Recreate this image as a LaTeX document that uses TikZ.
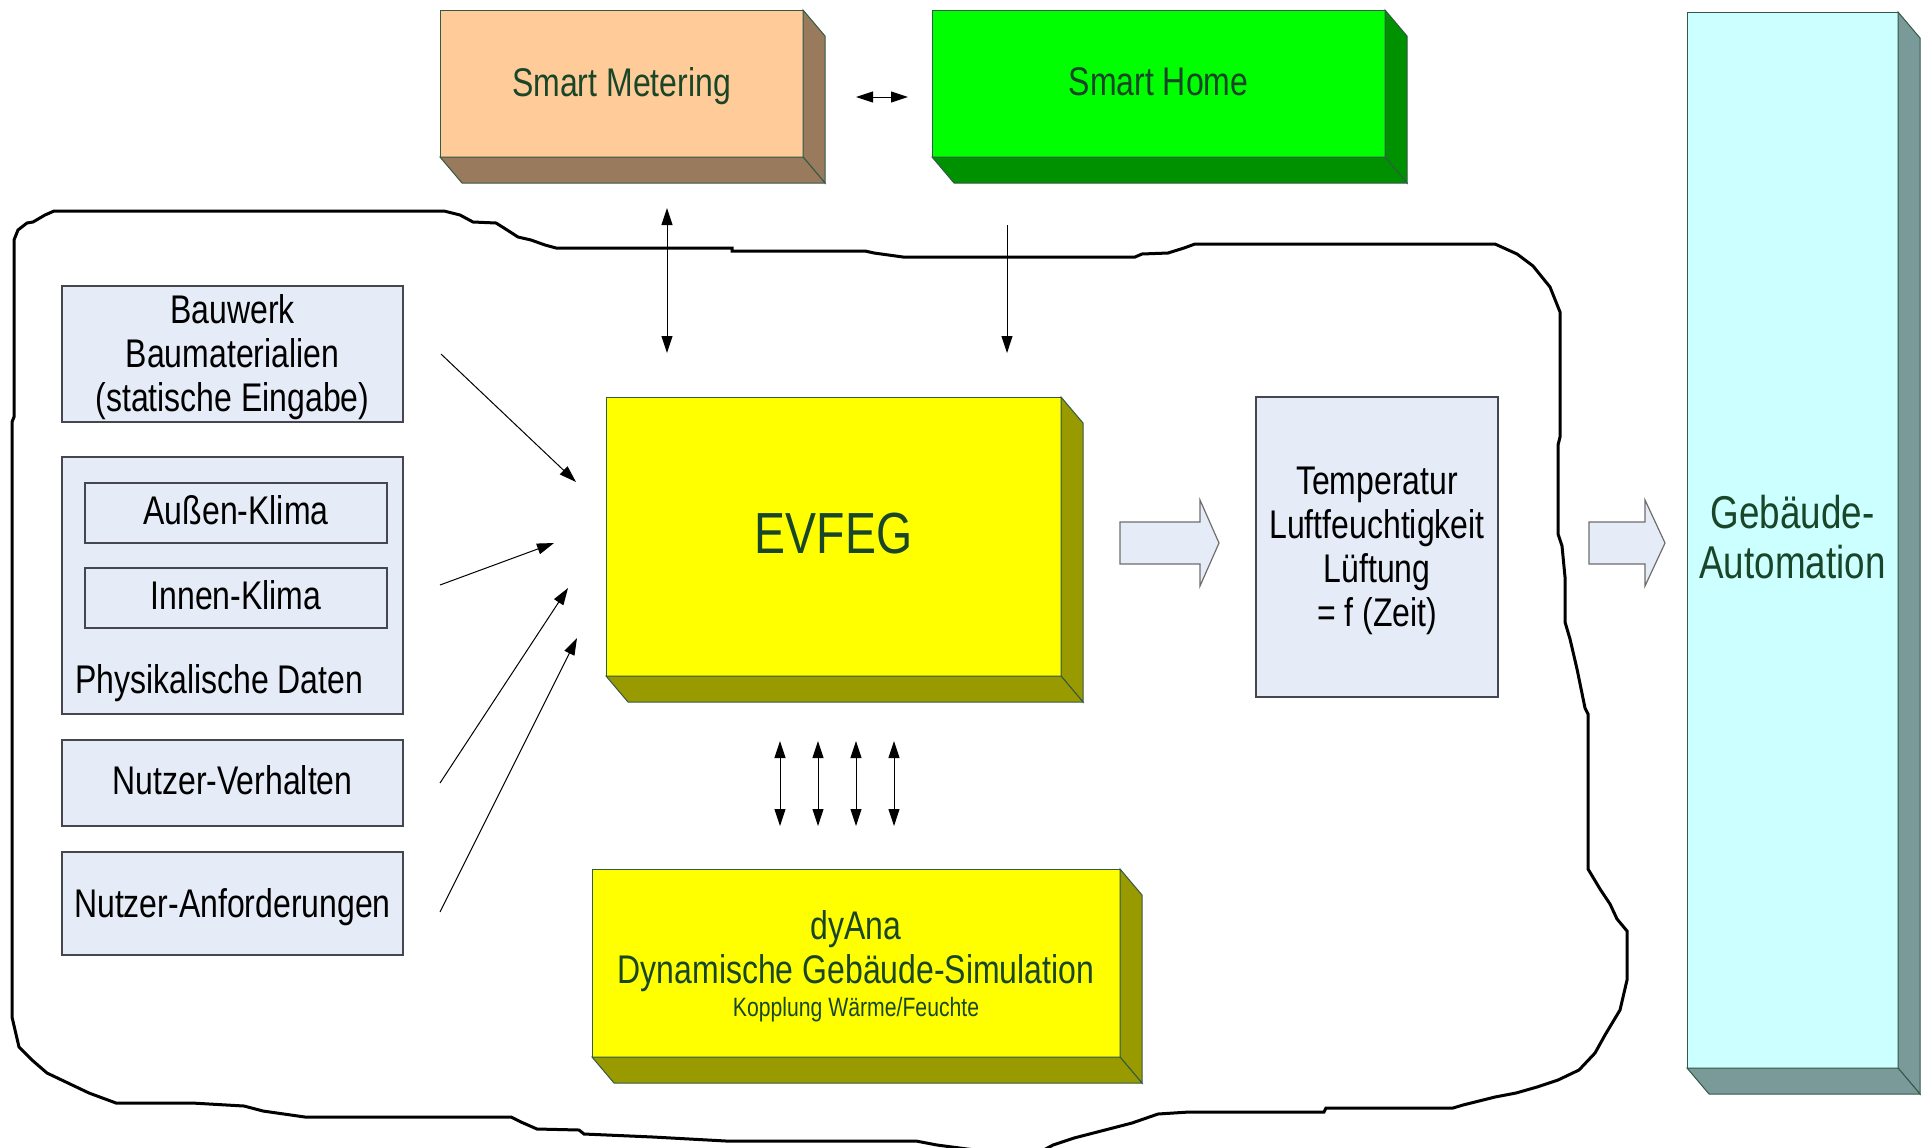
\documentclass[tikz,border=0pt]{standalone}
\usepackage{fontspec}
\setmainfont{Liberation Sans}[FakeStretch=0.8]
\usetikzlibrary{arrows.meta}

\definecolor{textgreen}{RGB}{25,70,40}
\definecolor{edgegreen}{RGB}{50,90,70}
\definecolor{meterfront}{RGB}{255,204,153}
\definecolor{meterside}{RGB}{153,122,92}
\definecolor{homefront}{RGB}{0,255,0}
\definecolor{homeside}{RGB}{0,145,0}
\definecolor{simfront}{RGB}{255,255,0}
\definecolor{simside}{RGB}{153,153,0}
\definecolor{autofront}{RGB}{204,255,255}
\definecolor{autoside}{RGB}{122,153,153}
\definecolor{lightblue}{RGB}{230,236,247}
\definecolor{boxline}{RGB}{70,70,80}
\definecolor{arrowgrey}{RGB}{110,110,110}

\newcommand\stdfont{\fontsize{20}{22}\selectfont}
\newcommand\bigfont{\fontsize{29}{32}\selectfont}
\newcommand\autofont{\fontsize{23}{25}\selectfont}
\newcommand\smallfont{\fontsize{13.25}{15}\selectfont}

% side and bottom faces of an extruded box, drawn from the front node
\newcommand\cuboidsides[2]{%
  \filldraw[edgegreen, line width=0.5pt, fill=#2]
    (#1.north east) -- ++(22,26) -- ([shift={(22,26)}]#1.south east) -- (#1.south east) -- cycle;
  \filldraw[edgegreen, line width=0.5pt, fill=#2]
    (#1.south west) -- (#1.south east) -- ++(22,26) -- ([shift={(22,26)}]#1.south west) -- cycle;
}

\begin{document}
\begin{tikzpicture}[x=0.5pt,y=-0.5pt,
  frontface/.style={draw=edgegreen, line width=0.5pt, outer sep=0pt, inner sep=0pt,
    text=textgreen, align=center, font=\stdfont},
  lightbox/.style={draw=boxline, fill=lightblue, line width=0.6pt, outer sep=0pt,
    inner sep=0pt, align=center, font=\stdfont},
  plain/.style={inner sep=0pt, outer sep=0pt, font=\stdfont},
  oneline/.style={text height=18.1pt, text depth=4.24pt},
  conn/.style={line width=0.5pt, -{Triangle[length=8.5pt,width=5.5pt]}},
  dconn/.style={line width=0.5pt,
    {Triangle[length=8.5pt,width=5.5pt]}-{Triangle[length=8.5pt,width=5.5pt]}},
  outline/.style={line width=1.5pt, line join=miter},
  blockarrow/.style={draw=arrowgrey, fill=lightblue, line width=0.6pt},
]
\useasboundingbox (0,0) rectangle (1921,1147);
\fill[white] (0,0) rectangle (1921,1147);

% system boundary
\draw[outline] (14,240) -- (18,230) -- (27,223) -- (33,222) -- (45,215) -- (54,211)
  -- (444,211) -- (460,215) -- (473,222) -- (496,223) -- (504,228) -- (518,237)
  -- (531,240) -- (545,245) -- (556,248) -- (732,248) -- (732,251) -- (865,251)
  -- (874,253) -- (903,257) -- (1135,257) -- (1142,254) -- (1168,253) -- (1184,248)
  -- (1195,244) -- (1495,244) -- (1517,254) -- (1533,266) -- (1550,287) -- (1558,307)
  -- (1560,312) -- (1560,437) -- (1558,445) -- (1558,534) -- (1562,546) -- (1565,577)
  -- (1565,622) -- (1570,639) -- (1577,669) -- (1585,708) -- (1588,714) -- (1588,869)
  -- (1600,889) -- (1610,904) -- (1617,919) -- (1627,931) -- (1627,980) -- (1620,1010)
  -- (1611,1025) -- (1605,1035) -- (1595,1053) -- (1579,1070) -- (1558,1080)
  -- (1537,1087) -- (1516,1093) -- (1495,1097) -- (1463,1105) -- (1453,1108)
  -- (1326,1108) -- (1324,1112) -- (1189,1112) -- (1158,1114) -- (1132,1123)
  -- (1105,1130) -- (1074,1138) -- (1053,1145) -- (1040,1152) -- (990,1152)
  -- (937,1145) -- (916,1141) -- (726,1141) -- (653,1137) -- (584,1134) -- (579,1130)
  -- (537,1129) -- (521,1122) -- (511,1117) -- (305,1117) -- (263,1111) -- (244,1106)
  -- (192,1103) -- (116,1103) -- (89,1093) -- (68,1083) -- (47,1073) -- (32,1060)
  -- (19,1047) -- (12,1017) -- (12,422) -- (14,417) -- cycle;

% extruded boxes
\node[frontface, fill=meterfront, minimum width=181.5pt, minimum height=73.5pt]
  (meter) at (621.5,83.5) {};
\cuboidsides{meter}{meterside}
\node[plain, oneline, text=textgreen] (metertext) at (621.5,82.5) {Smart Metering};
\node[frontface, fill=homefront, minimum width=226.5pt, minimum height=73.5pt]
  (home) at (1158.5,83.5) {};
\cuboidsides{home}{homeside}
\node[plain, oneline, text=textgreen] (hometext) at (1158.5,82) {Smart Home};
\node[frontface, fill=autofront, minimum width=105.5pt, minimum height=528pt]
  (auto) at (1792.5,540) {};
\cuboidsides{auto}{autoside}
\node[plain, align=center, text=textgreen, font=\autofont] (autotext) at (1792.5,537)
  {Gebäude-\\Automation};
\node[frontface, fill=simfront, minimum width=227.5pt, minimum height=139.5pt]
  (evfeg) at (833.5,536.5) {};
\cuboidsides{evfeg}{simside}
\node[plain, text=textgreen, font=\bigfont] (evfegtext) at (833.5,534) {EVFEG};
\node[frontface, fill=simfront, minimum width=264pt, minimum height=94pt]
  (dyana) at (856,963) {};
\cuboidsides{dyana}{simside}
\node[plain, text=textgreen, anchor=base] (dyanaA) at (856,939) {dyAna};
\node[plain, text=textgreen, anchor=base] (dyanaB) at (856,983) {Dynamische Gebäude-Simulation};
\node[plain, text=textgreen, anchor=base, font=\smallfont] (dyanaC) at (856,1016) {Kopplung Wärme/Feuchte};

% input boxes
\node[lightbox, minimum width=170.5pt, minimum height=68pt] (bauwerk) at (232.5,354) {};
\node[plain, align=center] (bauwerktext) at (232.5,357)
  {Bauwerk\\Baumaterialien\\(statische Eingabe)};
\node[lightbox, minimum width=170.5pt, minimum height=128.5pt]
  (phys) at (232.5,585.5) {};
\node[lightbox, minimum width=151pt, minimum height=30pt] (aussen) at (236,513) {};
\node[plain, oneline] (aussentext) at (236,511) {Außen-Klima};
\node[lightbox, minimum width=151pt, minimum height=30pt] (innen) at (236,598) {};
\node[plain, oneline] (innentext) at (236,596) {Innen-Klima};
\node[plain, oneline, anchor=west] (physlabel) at (75,680) {Physikalische Daten};
\node[lightbox, minimum width=170.5pt, minimum height=43pt] (verhalten) at (232.5,783) {};
\node[plain, oneline] (verhaltentext) at (232.5,780.5) {Nutzer-Verhalten};
\node[lightbox, oneline, minimum width=170.5pt, minimum height=51.5pt]
  (anford) at (232.5,903.5) {Nutzer-Anforderungen};

% result box
\node[lightbox, minimum width=121pt, minimum height=150pt] (result) at (1377,547) {};
\node[plain, align=center] (resulttext) at (1377,550.5)
  {Temperatur\\Luftfeuchtigkeit\\Lüftung\\= f (Zeit)};

% block arrows
\draw[blockarrow] (1120,522) -- (1200,522) -- (1200,500) -- (1219,543) -- (1200,586)
  -- (1200,564) -- (1120,564) -- cycle;
\draw[blockarrow] (1589,522) -- (1645,522) -- (1645,500) -- (1665,543) -- (1645,586)
  -- (1645,564) -- (1589,564) -- cycle;

% connector end points
\coordinate (mhL) at (856,97);   \coordinate (mhR) at (908,97);
\coordinate (mT) at (667,208);   \coordinate (mB) at (667,353);
\coordinate (hT) at (1007,225);  \coordinate (hB) at (1007,353);
\coordinate (bwS) at (441,354);  \coordinate (bwE) at (576,482);
\coordinate (klS) at (440,585);  \coordinate (klE) at (554,543);
\coordinate (vhS) at (440,783);  \coordinate (vhE) at (568,588);
\coordinate (afS) at (440,912);  \coordinate (afE) at (577,638);
\foreach \i/\x in {1/780,2/818,3/856,4/894}{
  \coordinate (eT\i) at (\x,741);
  \coordinate (eB\i) at (\x,826);
}

% connectors
\draw[dconn] (mhL) -- (mhR);
\draw[dconn] (mT) -- (mB);
\draw[conn] (hT) -- (hB);
\draw[conn] (bwS) -- (bwE);
\draw[conn] (klS) -- (klE);
\draw[conn] (vhS) -- (vhE);
\draw[conn] (afS) -- (afE);
\foreach \i in {1,...,4}{
  \draw[dconn] (eT\i) -- (eB\i);
}
\end{tikzpicture}
\end{document}
